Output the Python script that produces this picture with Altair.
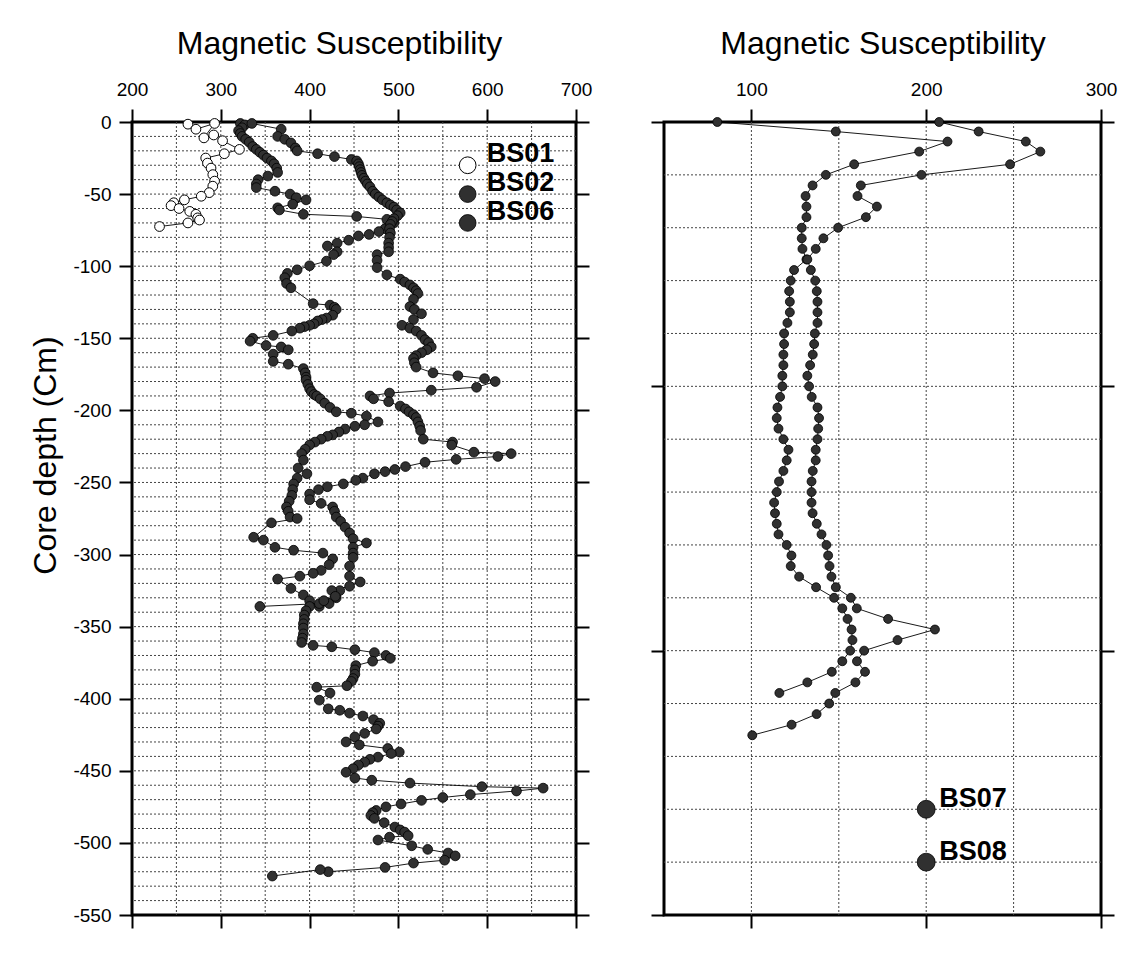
import altair as alt
import pandas as pd

FONT = "Liberation Sans"

# ---------------- Left panel data (Magnetic susceptibility vs core depth) -------------
bs01_ms = [263, 272, 293, 281, 292, 302, 321, 304, 283, 285, 289, 291, 293, 291, 287,
           278, 259, 247, 244, 253, 265, 272, 274, 276, 263, 231]
bs01_depth = [-1.5, -5, -1, -11, -9, -13, -19, -22, -25, -28.5, -32, -36.5, -41, -44.5, -49,
              -51.5, -54, -56, -58, -60, -62, -64, -66.5, -68, -70, -72.5]

bs02_ms = [322, 327, 324, 320, 322, 324, 328, 332, 336, 340, 344, 348, 352, 357, 360, 363,
           364, 353, 342, 340, 340, 361, 378, 385, 396, 381, 364, 366, 393, 453, 487, 495,
           485, 478, 467, 455, 444, 431, 420, 431, 427, 419, 400, 386, 375, 372, 374, 379,
           404, 423, 428, 430, 426, 419, 414, 409, 405, 400, 394, 389, 380, 359, 336, 333,
           351, 368, 376, 359, 359, 376, 393, 395, 396, 396, 398, 400, 402, 405, 408, 412,
           417, 423, 430, 447, 464, 477, 462, 451, 440, 433, 426, 420, 413, 406, 400, 395,
           391, 393, 387, 397, 386, 382, 381, 380, 377, 374, 376, 378, 386, 357, 337, 348,
           361, 382, 415, 426, 422, 413, 404, 389, 364, 379, 393, 400, 411, 422, 430, 434,
           411, 344]
bs02_depth = [-1, -2, -4, -6, -8, -10, -12, -14, -17, -19, -21, -23, -25, -27, -29, -32,
              -35, -37.5, -40, -43, -45.5, -48, -50, -52.5, -54, -57, -59.5, -61, -64, -65.5, -67.5, -70,
              -74, -76, -78, -79, -82, -84, -86, -90, -92, -96.5, -99.7, -102.5, -105, -108, -112, -115,
              -126, -127, -128.5, -130, -134, -136, -137, -138, -140, -141, -142, -143, -145, -148, -150, -152,
              -155, -156, -158, -161, -166, -168, -171, -174, -177, -179, -182, -185, -187, -189, -190, -192,
              -195, -198, -201, -202, -204, -208, -210, -211, -213, -215, -217, -218, -220, -222, -224, -227,
              -230, -234.5, -240, -244, -247, -251, -255, -259, -263, -267, -270, -274, -275, -278, -288, -290,
              -295, -297, -299, -303, -307, -311, -313, -315, -317, -323.5, -328, -332, -336, -334, -330, -325,
              -334, -336]

bs06_ms = [335, 368, 364, 372, 379, 384, 386, 409, 428, 447, 453, 455, 456, 457, 458, 459,
           461, 463, 465, 468, 471, 474, 478, 482, 487, 491, 495, 498, 502, 499, 495, 493,
           491, 490, 491, 490, 489, 489, 489, 476, 476, 476, 487, 502, 507, 513, 517, 520,
           522, 517, 513, 518, 526, 517, 504, 513, 520, 526, 530, 534, 537, 532, 526, 520,
           517, 518, 520, 539, 567, 597, 609, 588, 537, 490, 468, 472, 489, 502, 508, 512,
           517, 520, 522, 524, 525, 528, 561, 560, 585, 627, 612, 565, 530, 508, 496, 485,
           473, 460, 452, 438, 420, 410, 400, 400, 413, 426, 428, 430, 435, 440, 445, 449,
           464, 449, 449, 449, 445, 445, 457, 445, 425, 429, 416, 400, 396, 394, 394, 393,
           393, 393, 392, 391, 404, 425, 451, 473, 486, 491, 471, 452, 451, 451, 449, 447,
           442, 408, 423, 411, 421, 434, 445, 460, 472, 479, 477, 475, 462, 451, 441, 456,
           488, 501, 492, 477, 468, 462, 455, 449, 441, 451, 470, 513, 594, 663, 633, 581,
           550, 526, 503, 486, 475, 471, 469, 473, 484, 496, 502, 507, 511, 490, 477, 515,
           533, 556, 564, 552, 517, 485, 421, 412, 358]
bs06_depth = [-1, -5, -10, -12, -14.5, -18, -20, -22, -24, -26, -27, -29, -31, -33, -35, -37,
              -39, -41, -43, -45, -48, -50, -52, -54, -56, -57.5, -59, -61, -63, -65, -67, -69,
              -71, -74, -77, -80, -84, -87, -90, -92, -96, -101, -106, -109, -111, -113, -115, -117,
              -119, -123, -128, -130, -133, -137, -141, -143, -145, -148, -151, -153, -156, -158, -160, -162,
              -164, -167, -170, -174, -176, -178, -180, -184, -186, -188, -190, -192, -194, -197, -199, -201,
              -203, -205, -208, -211, -214, -220, -222, -224, -229, -230, -232, -234, -236, -239, -241, -242.5,
              -244, -247, -248.5, -251, -253, -255, -258, -262, -264.5, -267, -270, -274, -277, -281, -285, -289,
              -292, -295, -299, -302, -308, -315, -319, -322, -325, -329, -332, -336, -339, -342, -345, -348,
              -351, -355, -358, -361, -363, -364, -366, -368, -370, -372, -374, -377, -380, -383, -386, -388,
              -391, -392, -396, -401, -407, -408, -410, -412, -414.5, -417, -419, -421, -424, -426.5, -430, -432,
              -434.5, -437, -438, -440.5, -442, -444, -446, -448.5, -451, -455, -456.5, -458.5, -461, -462, -464, -466.5,
              -468.5, -470.5, -473, -475, -477.5, -479, -481, -483, -486, -489, -491, -492.5, -495, -496, -498, -502,
              -504.5, -507, -509, -512, -514, -517, -520, -518.5, -523]

left_legend_names = ["BS01", "BS02", "BS06"]
left_legend_ms = [578, 578, 578]
left_legend_depth = [-30, -50, -70]
left_legend_open = [True, False, False]

left_x_ticks = [200, 300, 400, 500, 600, 700]
left_y_ticks = [0, -50, -100, -150, -200, -250, -300, -350, -400, -450, -500, -550]
left_grid_x = [250, 300, 350, 400, 450, 500, 550, 600, 650]
left_grid_y = [-10 * k for k in range(1, 55)]

# ---------------- Right panel data -------------
bs07_ms = [80.5, 148.3, 212.2, 196, 158.8, 142.6, 135, 131, 131.5, 131.5, 128.8, 128.8, 129.2, 131.5,
           124.4, 122.5, 121.6, 122, 122, 120.6, 118.7, 118.7, 118.3, 118.3, 117.7, 117.7, 116.4,
           114.9, 114.5, 115.5, 118.3, 121.2, 120.2, 118.3, 115.8, 114.5, 113, 113.5, 114.5, 115.5,
           120.2, 122.9, 122.5, 127.3, 137, 147.3, 152, 155, 157.3, 157.8, 156.5, 152, 146, 132, 116]
bs07_depth = [0, -1.8, -3.7, -5.6, -8, -10, -12, -14, -16, -18, -20, -22, -24, -26,
              -28, -30, -32, -34, -36, -38, -40, -42, -44, -46, -48, -50, -52,
              -54, -56, -58, -60, -62, -64, -66, -68, -70, -72, -74, -76, -78,
              -80, -82, -84, -86, -88, -90, -92, -94, -96, -98, -100, -102, -104, -106, -108]

bs08_ms = [207.4, 230, 257, 265.3, 248, 197.3, 162.6, 160.7, 171.8, 165.5, 149.6, 141.2, 136.8,
           132, 134, 136.5, 137.4, 137.8, 137.8, 137.8, 136.3, 135.9, 135.1, 133.6, 132, 133,
           134.5, 137.8, 138.7, 138.2, 137.8, 136.8, 136.8, 135.1, 134.4, 134.4, 134.4, 135,
           137.4, 140.1, 142.9, 143.9, 144.7, 145.8, 148.3, 156.9, 160.3, 178.2, 205, 183.6,
           164.5, 160.4, 165, 159.5, 148, 144.5, 137.3, 123, 100.5]
bs08_depth = [0, -1.8, -3.7, -5.6, -8, -10, -12, -14, -16, -18, -20, -22, -24,
              -26, -28, -30, -32, -34, -36, -38, -40, -42, -44, -46, -48, -50,
              -52, -54, -56, -58, -60, -62, -64, -66, -68, -70, -72, -74,
              -76, -78, -80, -82, -84, -86, -88, -90, -92, -94, -96, -98,
              -100, -102, -104, -106, -108, -110, -112, -114, -116]

right_legend_names = ["BS07", "BS08"]
right_legend_ms = [200, 200]
right_legend_depth = [-130, -140]

right_x_ticks = [100, 200, 300]
right_y_ticks = [0, -50, -100, -150]
right_grid_x = [100, 150, 200, 250]
right_grid_y = [-10 * k for k in range(1, 15)]


def series_df(name, ms, depth):
    return pd.DataFrame({"series": name, "ms": ms, "depth": depth, "i": list(range(len(ms)))})


Y_LABEL_EXPR = "datum.value == 0 ? '0' : '-' + format(abs(datum.value), 'd')"
TITLE_SIZE = 32
LABEL_SIZE = 19


def top_axis(values, title, title_x):
    kw = dict(orient="top", values=values, title=title, format="d",
              titleFont=FONT, titleFontSize=TITLE_SIZE, titleFontWeight="normal",
              titleColor="black", titlePadding=20, labelFont=FONT,
              labelFontSize=LABEL_SIZE, labelColor="black",
              labelPadding=10, labelFlush=False, labelOverlap=False,
              tickSize=13, tickWidth=2, tickColor="black", domain=False, grid=False)
    if title_x is not None:
        kw["titleX"] = title_x
    return alt.Axis(**kw)


def tick_axis(orient, values):
    return alt.Axis(orient=orient, values=values, title=None, labels=False,
                    tickSize=13, tickWidth=2, tickColor="black", domain=False, grid=False)


def build_panel(df_lines, df_open, df_filled, legend_df, xdom, ydom, xticks, yticks,
                grid_x, grid_y, width, height, left_labels, pt_size, leg_size, leg_dx, leg_dy,
                title_x):
    xs = alt.Scale(domain=xdom, nice=False, zero=False)
    ys = alt.Scale(domain=ydom, nice=False, zero=False)
    grid_style = dict(color="#444444", strokeWidth=1, strokeDash=[2, 2])

    gx = alt.Chart(pd.DataFrame({"v": grid_x})).mark_rule(**grid_style).encode(
        x=alt.X("v:Q", scale=xs, axis=None))
    gy = alt.Chart(pd.DataFrame({"v": grid_y})).mark_rule(**grid_style).encode(
        y=alt.Y("v:Q", scale=ys, axis=None))

    if left_labels:
        y_axis_main = alt.Axis(orient="left", values=yticks, title="Core depth (Cm)",
                               labelExpr=Y_LABEL_EXPR, titleFont=FONT, titleFontSize=TITLE_SIZE,
                               titleFontWeight="normal", titleColor="black", titlePadding=10,
                               titleY=333,
                               labelFont=FONT, labelFontSize=LABEL_SIZE, labelColor="black",
                               labelPadding=8, labelOverlap=False, labelFlush=False,
                               tickSize=13, tickWidth=2, tickColor="black", domain=False, grid=False)
    else:
        y_axis_main = tick_axis("left", yticks)

    lines = alt.Chart(df_lines).mark_line(color="black", strokeWidth=0.9).encode(
        x=alt.X("ms:Q", scale=xs, axis=top_axis(xticks, "Magnetic Susceptibility", title_x)),
        y=alt.Y("depth:Q", scale=ys, axis=y_axis_main),
        detail="series:N",
        order="i:Q",
    )
    filled = alt.Chart(df_filled).mark_circle(size=pt_size, color="#303030", stroke="black",
                                              strokeWidth=0.8, opacity=1).encode(
        x=alt.X("ms:Q", scale=xs, axis=tick_axis("bottom", xticks)),
        y=alt.Y("depth:Q", scale=ys, axis=tick_axis("right", yticks)),
    )
    layers = [gx, gy, lines, filled]
    if df_open is not None:
        opn = alt.Chart(df_open).mark_circle(size=pt_size, fill="white", stroke="black",
                                             strokeWidth=1, opacity=1).encode(
            x=alt.X("ms:Q", scale=xs, axis=None),
            y=alt.Y("depth:Q", scale=ys, axis=None),
        )
        layers.append(opn)

    leg_open = legend_df[legend_df["open"]]
    leg_fill = legend_df[~legend_df["open"]]
    if len(leg_open):
        layers.append(alt.Chart(leg_open).mark_circle(size=leg_size, fill="white", stroke="black",
                                                      strokeWidth=1, opacity=1).encode(
            x=alt.X("ms:Q", scale=xs, axis=None), y=alt.Y("depth:Q", scale=ys, axis=None)))
    layers.append(alt.Chart(leg_fill).mark_circle(size=leg_size, color="#303030", stroke="black",
                                                  strokeWidth=0.8, opacity=1).encode(
        x=alt.X("ms:Q", scale=xs, axis=None), y=alt.Y("depth:Q", scale=ys, axis=None)))
    layers.append(alt.Chart(legend_df).mark_text(align="left", baseline="middle", dx=leg_dx, dy=leg_dy,
                                                 font=FONT, fontSize=27, fontWeight="bold",
                                                 color="black").encode(
        x=alt.X("ms:Q", scale=xs, axis=None), y=alt.Y("depth:Q", scale=ys, axis=None),
        text="name:N"))

    return alt.layer(*layers).resolve_axis(x="independent", y="independent").properties(
        width=width, height=height)


left_lines = pd.concat([series_df("BS01", bs01_ms, bs01_depth),
                        series_df("BS02", bs02_ms, bs02_depth),
                        series_df("BS06", bs06_ms, bs06_depth)], ignore_index=True)
left_open = series_df("BS01", bs01_ms, bs01_depth)
left_filled = pd.concat([series_df("BS02", bs02_ms, bs02_depth),
                         series_df("BS06", bs06_ms, bs06_depth)], ignore_index=True)
left_legend = pd.DataFrame({"name": left_legend_names, "ms": left_legend_ms,
                            "depth": left_legend_depth, "open": left_legend_open})

right_lines = pd.concat([series_df("BS07", bs07_ms, bs07_depth),
                         series_df("BS08", bs08_ms, bs08_depth)], ignore_index=True)
right_legend = pd.DataFrame({"name": right_legend_names, "ms": right_legend_ms,
                             "depth": right_legend_depth, "open": [False, False]})

left = build_panel(left_lines, left_open, left_filled, left_legend, [200, 700], [-550, 0],
                   left_x_ticks, left_y_ticks, left_grid_x, left_grid_y, 444, 793, True,
                   95, 280, 19, -11, 207)
right = build_panel(right_lines, None, right_lines, right_legend, [50, 300], [-150, 0],
                    right_x_ticks, right_y_ticks, right_grid_x, right_grid_y, 437, 793, False,
                    80, 320, 13, -10, None)

chart = alt.hconcat(left, right, spacing=54).properties(
    padding={"left": 28, "top": 25, "right": 5, "bottom": 5},
    background="white",
).configure_view(stroke="black", strokeWidth=3)

chart.save("out.html", embed_options={"renderer": "svg", "actions": False})
